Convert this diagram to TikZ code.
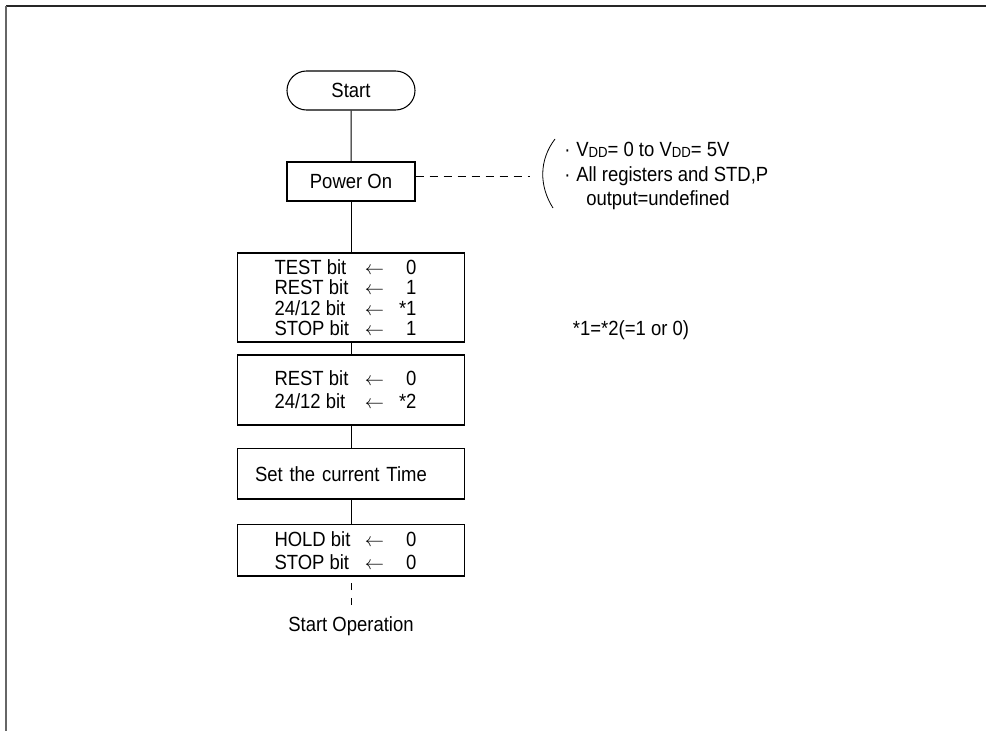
\documentclass[tikz,border=0pt]{standalone}
\usepackage{fontspec}
\setmainfont{Liberation Sans}[FakeStretch=0.9]
\usetikzlibrary{positioning,shapes.misc}

\newcommand{\bitrow}[2]{\makebox[67.5pt][l]{#1}\makebox[15pt]{$\leftarrow$}\makebox[32.25pt][l]{\makebox[24pt][r]{#2}}}
\newcommand{\vdd}{V\raisebox{-1pt}{\fontsize{11}{11}\selectfont DD}}

\begin{document}
\begin{tikzpicture}[x=0.75pt,y=-0.75pt,
    every node/.style={font=\fontsize{15.4}{15.4}\selectfont},
    term/.style={draw,line width=0.8pt,rounded rectangle,minimum width=96pt,minimum height=29.25pt,inner sep=0pt},
    proc/.style={draw,line width=0.8pt,minimum width=170.25pt,inner sep=0pt,align=center},
    link/.style={line width=0.75pt},
    note/.style={line width=0.7pt,dash pattern=on 6pt off 4.5pt}]
    \useasboundingbox (0,0) rectangle (986,731);

    % 枠
    \draw[line width=1.2pt,black!85] (6,6) -- (986,6);
    \draw[line width=1.5pt,black!60] (6,6) -- (6,731);

    % フローの箱
    \node[term] (start) at (351,90.5) {Start};
    \node[draw,line width=0.8pt,minimum width=96pt,minimum height=29.25pt,inner sep=0pt] (pwr) at (351,181.5) {Power On};
    \node[proc,minimum height=66.75pt] (init) at (351,297.5)
        {\bitrow{TEST bit}{0}\\\bitrow{REST bit}{1}\\\bitrow{24/12 bit}{*1}\\\bitrow{STOP bit}{1}};
    \node[proc,minimum height=52.5pt,font=\fontsize{15.4}{17.3}\selectfont] (rest) at (351,390)
        {\bitrow{REST bit}{0}\\\bitrow{24/12 bit}{*2}};
    \node[proc,minimum height=37.9pt,text width=144pt,inner xsep=13.1pt,align=left] (time) at (351,473.75)
        {Set the current Time};
    \node[proc,minimum height=38.6pt,font=\fontsize{15.4}{17.3}\selectfont] (hold) at (351,550.25)
        {\bitrow{HOLD bit}{0}\\\bitrow{STOP bit}{0}};
    \node (op) at (351,626) {Start Operation};

    % 線
    \draw[link] (start) -- (pwr);
    \draw[link] (pwr) -- (init);
    \draw[link] (init) -- (rest);
    \draw[link] (rest) -- (time);
    \draw[link] (time) -- (hold);
    \coordinate (opend) at (351,605);
    \draw[link,dash pattern=on 5.25pt off 6pt] (opend) -- (hold.south);

    % 注記
    \coordinate (brk) at (530,176);
    \draw[note] (pwr.east |- brk) -- (brk);
    \draw[line width=0.6pt] (555,139) .. controls (539,160) and (539,186) .. (553,208);
    \node[anchor=west,align=left,inner sep=0pt,font=\fontsize{15.4}{18.4}\selectfont] (cond) at (564,176)
        {\makebox[9pt][l]{·}\vdd= 0 to \vdd= 5V\\
         \makebox[9pt][l]{·}All registers and STD,P\\
         \hspace*{16.5pt}output=undefined};
    \node (eq) at (631,330) {*1=*2(=1 or 0)};

\end{tikzpicture}
\end{document}
